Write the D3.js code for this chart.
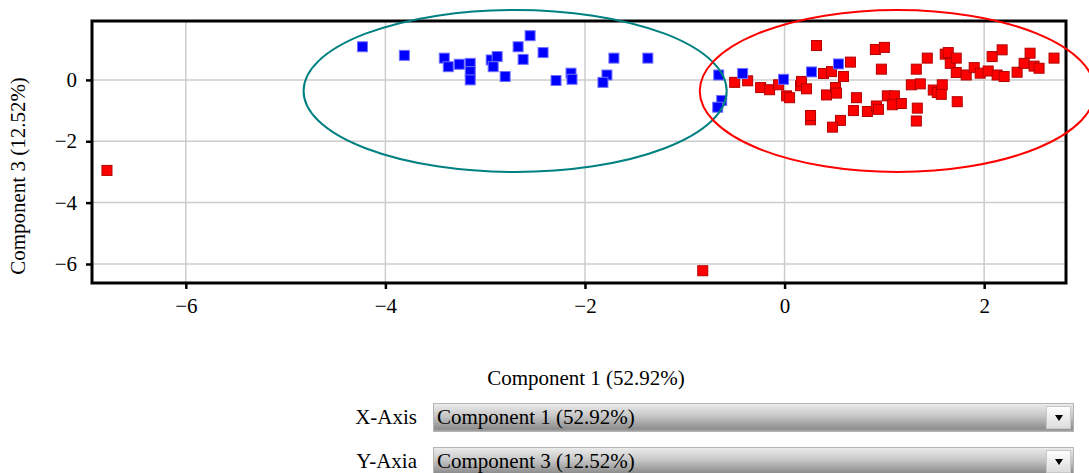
<!DOCTYPE html>
<html>
<head>
<meta charset="utf-8">
<script src="https://cdn.jsdelivr.net/npm/d3@7"></script>
<style>
  body { margin: 0; background: #fff; }
  svg text { font-family: "Liberation Serif", "Times New Roman", serif; }
</style>
</head>
<body>
<svg id="chart" width="1089" height="473"></svg>
<script>
"use strict"

// group 1 (blue)
var blueX = [-4.23, -3.81, -3.41, -3.37, -3.26, -3.15, -3.15, -3.15, -2.94, -2.88,
             -2.92, -2.80, -2.67, -2.55, -2.62, -2.42, -2.29, -2.14, -2.13, -1.71,
             -1.78, -1.82, -1.37, -0.66, -0.63, -0.67, -0.42, -0.01, 0.27, 0.54];
var blueY = [1.08, 0.80, 0.71, 0.43, 0.51, 0.54, 0.27, 0.00, 0.65, 0.76,
             0.43, 0.11, 1.08, 1.44, 0.67, 0.89, -0.02, 0.22, 0.02, 0.71,
             0.16, -0.08, 0.71, 0.16, -0.67, -0.89, 0.21, 0.02, 0.26, 0.52];

// group 2 (red)
var redX = [-6.79, -0.82,
             -0.50, -0.37, -0.24, -0.15, -0.06, 0.02, 0.05, 0.16, 0.17, 0.22,
             0.26, 0.26, 0.32, 0.39, 0.42, 0.47, 0.59, 0.66, 0.51, 0.52,
             0.72, 0.69, 0.83, 0.92, 0.94, 0.56, 0.48, 0.91, 1.00, 0.97,
             1.03, 1.10, 1.08, 1.17, 1.32, 1.43, 1.27, 1.36, 1.33, 1.32,
             1.49, 1.53, 1.58, 1.61, 1.64, 1.66, 1.72, 1.72, 1.57, 1.73,
             1.82, 1.90, 1.96, 2.04, 2.08, 2.18, 2.13, 2.20, 2.33, 2.40,
             2.46, 2.50, 2.55, 2.70];
var redY = [-2.95, -6.22,
            -0.08, -0.03, -0.25, -0.32, -0.16, -0.52, -0.58, -0.19, -0.05, -0.29,
            -1.30, -1.16, 1.12, 0.21, -0.49, 0.27, 0.11, 0.58, -0.25, -0.43,
            -0.58, -1.00, -1.03, -0.85, -0.96, -1.32, -1.54, 0.99, 1.06, 0.35,
            -0.52, -0.52, -0.81, -0.77, 0.35, 0.71, -0.16, -0.13, -0.92, -1.34,
            -0.33, -0.41, -0.16, 0.84, 0.89, 0.54, 0.71, 0.24, -0.47, -0.71,
            0.16, 0.40, 0.22, 0.29, 0.76, 0.98, 0.16, 0.11, 0.25, 0.54,
            0.87, 0.45, 0.38, 0.71];

// confidence ellipses: [cx, cy, rx, ry]
var blueEllipse = [-2.70, -0.36, 2.12, 2.64];
var redEllipse = [1.13, -0.36, 1.98, 2.64];

var xTicks = [-6, -4, -2, 0, 2];
var yTicks = [-6, -4, -2, 0];
var xDomain = [-6.94, 2.82];
var yDomain = [-6.62, 1.92];

var xTitle = "Component 1 (52.92%)";
var yTitle = "Component 3 (12.52%)";
var axisOptions = ["Component 1 (52.92%)", "Component 3 (12.52%)"];
var axisNames = ["X-Axis", "Y-Axia"];

var serif = "'Liberation Serif', 'Times New Roman', serif";
var svg = d3.select("#chart");
var pLeft = 92, pRight = 1066, pTop = 21, pBottom = 283;

var x = d3.scaleLinear().domain(xDomain).range([pLeft, pRight]);
var y = d3.scaleLinear().domain(yDomain).range([pBottom, pTop]);

// grid
var grid = svg.append("g").attr("stroke", "#cccccc").attr("stroke-width", 1.5);
grid.selectAll(".vx").data(xTicks).enter().append("line")
    .attr("x1", d => x(d)).attr("x2", d => x(d))
    .attr("y1", pTop).attr("y2", pBottom);
grid.selectAll(".hy").data(yTicks).enter().append("line")
    .attr("x1", pLeft).attr("x2", pRight)
    .attr("y1", d => y(d)).attr("y2", d => y(d));

// axes
var xAxis = svg.append("g")
    .attr("transform", "translate(0," + pBottom + ")")
    .call(d3.axisBottom(x).tickValues(xTicks).tickSize(6).tickPadding(9));
var yAxis = svg.append("g")
    .attr("transform", "translate(" + pLeft + ",0)")
    .call(d3.axisLeft(y).tickValues(yTicks).tickSize(6).tickPadding(9));
[xAxis, yAxis].forEach(function(a) {
    a.attr("font-family", serif).attr("font-size", 21);
    a.select(".domain").remove();
    a.selectAll(".tick line").attr("stroke", "#000").attr("stroke-width", 2.5);
    a.selectAll(".tick text")
        .attr("fill", "#000")
        .style("font-family", serif)
        .style("font-size", "21px");
});

// points: red first, blue on top
var size = 10;
var redPts = redX.map((v, i) => [v, redY[i]]);
var bluePts = blueX.map((v, i) => [v, blueY[i]]);
svg.append("g").selectAll("rect").data(redPts).enter().append("rect")
    .attr("x", d => x(d[0]) - size / 2)
    .attr("y", d => y(d[1]) - size / 2)
    .attr("width", size).attr("height", size)
    .attr("fill", "#ff0000").attr("stroke", "#b30000").attr("stroke-width", 1);
svg.append("g").selectAll("rect").data(bluePts).enter().append("rect")
    .attr("x", d => x(d[0]) - size / 2)
    .attr("y", d => y(d[1]) - size / 2)
    .attr("width", size).attr("height", size)
    .attr("fill", "#0000ff").attr("stroke", "#7070ff").attr("stroke-width", 1);

// frame
svg.append("rect")
    .attr("x", pLeft).attr("y", pTop)
    .attr("width", pRight - pLeft).attr("height", pBottom - pTop)
    .attr("fill", "none").attr("stroke", "#000").attr("stroke-width", 3);

// ellipses
var drawEllipse = function(e, color) {
    svg.append("ellipse")
        .attr("cx", x(e[0])).attr("cy", y(e[1]))
        .attr("rx", x(e[0] + e[2]) - x(e[0]))
        .attr("ry", y(e[1]) - y(e[1] + e[3]))
        .attr("fill", "none").attr("stroke", color).attr("stroke-width", 2);
}
drawEllipse(blueEllipse, "#008080");
drawEllipse(redEllipse, "#ff0000");

// titles
svg.append("text")
    .attr("transform", "translate(25,176) rotate(-90)")
    .attr("text-anchor", "middle")
    .style("font-size", "21px")
    .text(yTitle);
svg.append("text")
    .attr("x", 586).attr("y", 385)
    .attr("text-anchor", "middle")
    .style("font-size", "21px")
    .text(xTitle);

// selector rows
var defs = svg.append("defs");
var grad = defs.append("linearGradient").attr("id", "selGrad")
    .attr("x1", 0).attr("y1", 0).attr("x2", 0).attr("y2", 1);
grad.append("stop").attr("offset", "0").attr("stop-color", "#ededed");
grad.append("stop").attr("offset", "0.45").attr("stop-color", "#c6c6c6");
grad.append("stop").attr("offset", "0.9").attr("stop-color", "#8e8e8e");
grad.append("stop").attr("offset", "1").attr("stop-color", "#a8a8a8");
var btnGrad = defs.append("linearGradient").attr("id", "btnGrad")
    .attr("x1", 0).attr("y1", 0).attr("x2", 0).attr("y2", 1);
btnGrad.append("stop").attr("offset", "0").attr("stop-color", "#ffffff");
btnGrad.append("stop").attr("offset", "1").attr("stop-color", "#dcdcdc");

var rowY = [403, 447];
var rowSel = [0, 1];
rowY.forEach(function(ry, i) {
    var g = svg.append("g").attr("transform", "translate(0," + ry + ")");
    g.append("text")
        .attr("x", 417).attr("y", 21)
        .attr("text-anchor", "end")
        .style("font-size", "21px")
        .text(axisNames[i]);
    g.append("rect")
        .attr("x", 433.5).attr("y", 0.5)
        .attr("width", 640).attr("height", 28)
        .attr("fill", "url(#selGrad)").attr("stroke", "#b5b5b5");
    g.append("rect")
        .attr("x", 1046.5).attr("y", 3.5)
        .attr("width", 24).attr("height", 22)
        .attr("fill", "url(#btnGrad)").attr("stroke", "#c8c8c8");
    g.append("path")
        .attr("d", "M1055,12 L1063,12 L1059,18 Z")
        .attr("fill", "#000");
    g.append("text")
        .attr("x", 437).attr("y", 21)
        .style("font-size", "21px")
        .text(axisOptions[rowSel[i]]);
});
</script>
</body>
</html>
